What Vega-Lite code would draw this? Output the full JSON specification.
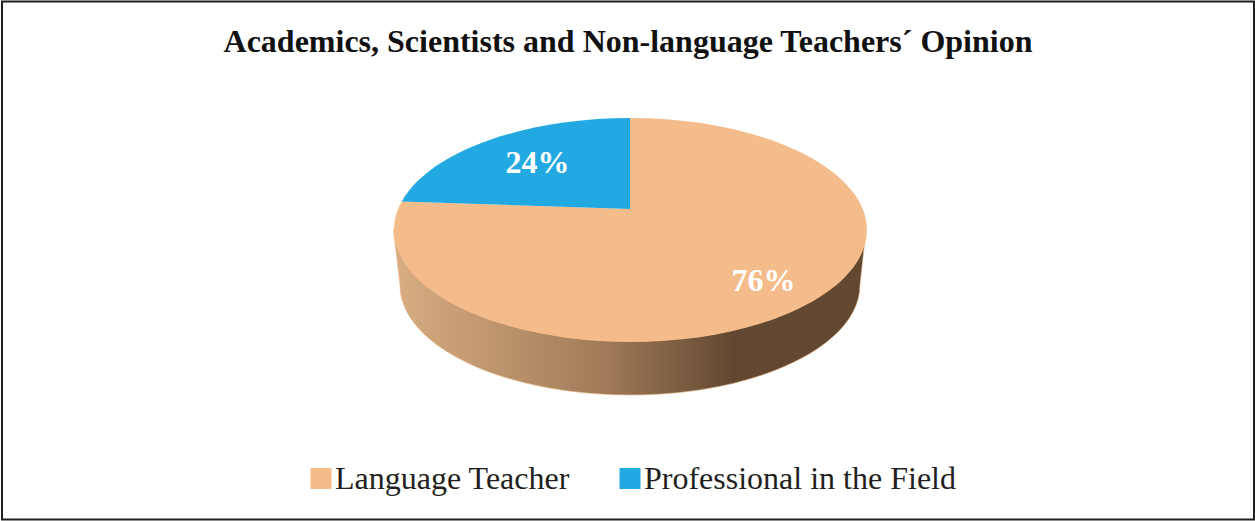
{
  "$schema": "https://vega.github.io/schema/vega-lite/v6.json",
  "width": 1252,
  "height": 518,
  "padding": {"left": 2, "top": 1.5, "right": 1, "bottom": 1.5},
  "autosize": {"type": "none"},
  "background": "white",
  "view": {"stroke": "#231f20", "strokeWidth": 2, "fill": "white"},
  "title": {
    "text": "Academics, Scientists and Non-language Teachers´ Opinion",
    "font": "Liberation Serif",
    "fontWeight": "bold",
    "fontSize": 32,
    "color": "#111111",
    "anchor": "middle",
    "offset": -57
  },
  "data": {
    "values": [
      {"category": "Language Teacher", "share": 0.76},
      {"category": "Professional in the Field", "share": 0.24}
    ]
  },
  "encoding": {
    "color": {
      "field": "category",
      "type": "nominal",
      "scale": {
        "domain": ["Language Teacher", "Professional in the Field"],
        "range": ["#f5bc8b", "#22a9e1"]
      },
      "legend": {
        "title": null,
        "orient": "none",
        "direction": "horizontal",
        "columns": 2,
        "legendX": 303,
        "legendY": 461,
        "symbolType": "square",
        "symbolSize": 441,
        "symbolOpacity": 1,
        "symbolStrokeWidth": 0,
        "labelFont": "Liberation Serif",
        "labelFontSize": 32,
        "labelColor": "#231f20",
        "labelOffset": -2,
        "labelLimit": 500,
        "columnPadding": 44,
        "encode": {
          "symbols": {"update": {"shape": {"value": "square"}, "size": {"value": 441}}}
        }
      }
    }
  },
  "layer": [
    {
      "transform": [{"filter": "datum.category === 'Language Teacher'"}],
      "mark": {
        "type": "point",
        "filled": true,
        "opacity": 1,
        "size": 4,
        "stroke": "#eab88c",
        "strokeWidth": 0.6,
        "shape": "M-234.5 -30.5 L-228 24.5 A230 110 0 0 0 232 24.5 L238 -30.5 Z",
        "fill": {
          "gradient": "linear",
          "x1": 0, "y1": 0, "x2": 1, "y2": 0,
          "stops": [
            {"offset": 0, "color": "#d8ad82"},
            {"offset": 0.45, "color": "#a07a58"},
            {"offset": 0.72, "color": "#624830"},
            {"offset": 1, "color": "#624830"}
          ]
        }
      },
      "encoding": {"color": {"value": null}}
    },
    {
      "transform": [{"filter": "datum.category === 'Language Teacher'"}],
      "mark": {
        "type": "point",
        "filled": true,
        "opacity": 1,
        "size": 4,
        "shape": "M2 -51.5 L-226.3 -59 A236.5 112 0 1 0 2 -142.5 Z"
      }
    },
    {
      "transform": [{"filter": "datum.category === 'Professional in the Field'"}],
      "mark": {
        "type": "point",
        "filled": true,
        "opacity": 1,
        "size": 4,
        "shape": "M2 -51.5 L2 -142.5 A236.5 112 0 0 0 -226.3 -59 Z"
      }
    },
    {
      "transform": [{"filter": "datum.category === 'Language Teacher'"}],
      "mark": {
        "type": "text",
        "font": "Liberation Serif",
        "fontWeight": "bold",
        "fontSize": 32,
        "baseline": "middle",
        "dx": 135.5,
        "dy": 20
      },
      "encoding": {
        "color": {"value": "white"},
        "text": {"field": "share", "type": "quantitative", "format": ".0%"}
      }
    },
    {
      "transform": [{"filter": "datum.category === 'Professional in the Field'"}],
      "mark": {
        "type": "text",
        "font": "Liberation Serif",
        "fontWeight": "bold",
        "fontSize": 32,
        "baseline": "middle",
        "dx": -90.5,
        "dy": -98
      },
      "encoding": {
        "color": {"value": "white"},
        "text": {"field": "share", "type": "quantitative", "format": ".0%"}
      }
    }
  ]
}
